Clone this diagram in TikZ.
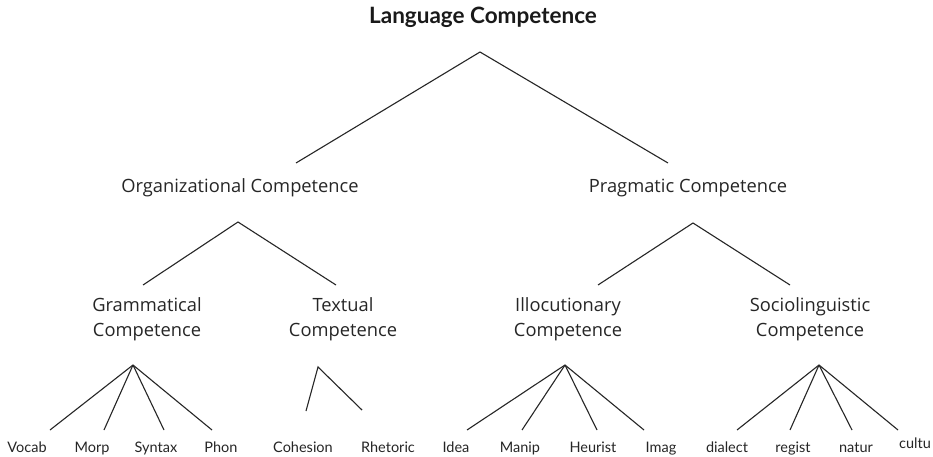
\documentclass[tikz,border=0pt]{standalone}
\usepackage{fontspec}
\setmainfont{Open Sans}
\newfontfamily\titlefont{Lato}
\newfontfamily\leaffont{Lato}
\begin{document}
\begin{tikzpicture}[x=1pt,y=-1pt,
  tline/.style={draw=black!85, line width=1.1pt},
  titlelbl/.style={font=\titlefont\fontsize{22.5}{26}\selectfont\bfseries, text=black!90, inner sep=0pt},
  midlbl/.style={font=\fontsize{18.3}{25}\selectfont, text=black!85, inner sep=0pt, align=center},
  leaflbl/.style={font=\leaffont\fontsize{14.5}{16}\selectfont, text=black!85, inner sep=0pt, anchor=base}]
\useasboundingbox[fill=white] (0,0) rectangle (933,457);
% labels
\node[titlelbl] (lang) at (483,17) {Language Competence};
\node[midlbl] (org) at (240,188) {Organizational Competence};
\node[midlbl] (prag) at (688,188) {Pragmatic Competence};
\node[midlbl] (gram) at (147,319) {Grammatical\\Competence};
\node[midlbl] (text) at (343,319) {Textual\\Competence};
\node[midlbl] (illo) at (568,319) {Illocutionary\\Competence};
\node[midlbl] (soc) at (810,319) {Sociolinguistic\\Competence};
\node[leaflbl] (vocab) at (27,452) {Vocab};
\node[leaflbl] (morp) at (92,452) {Morp};
\node[leaflbl] (syntax) at (156,452) {Syntax};
\node[leaflbl] (phon) at (221,452) {Phon};
\node[leaflbl] (coh) at (303,452) {Cohesion};
\node[leaflbl] (rhet) at (388,452) {Rhetoric};
\node[leaflbl] (idea) at (456,452) {Idea};
\node[leaflbl] (manip) at (520,452) {Manip};
\node[leaflbl] (heur) at (593,452) {Heurist};
\node[leaflbl] (imag) at (661,452) {Imag};
\node[leaflbl] (dial) at (727,452) {dialect};
\node[leaflbl] (reg) at (793,452) {regist};
\node[leaflbl] (nat) at (856,452) {natur};
\node[leaflbl] (cult) at (915,448) {cultu};
% branch points
\coordinate (aLang) at (480,52);
\coordinate (eOrg) at (296,163);
\coordinate (ePrag) at (668,163);
\coordinate (aOrg) at (238,222);
\coordinate (eGram) at (143,285);
\coordinate (eText) at (336,285);
\coordinate (aPrag) at (693,223);
\coordinate (eIllo) at (598,285);
\coordinate (eSoc) at (790,285);
\coordinate (aGram) at (133,365);
\coordinate (eVocab) at (50,430);
\coordinate (eMorp) at (104,430);
\coordinate (eSyntax) at (164,430);
\coordinate (ePhon) at (212,430);
\coordinate (aText) at (318,367);
\coordinate (eCoh) at (306,411);
\coordinate (eRhet) at (362,410);
\coordinate (aIllo) at (565,365);
\coordinate (eIdea) at (467,430);
\coordinate (eManip) at (522,430);
\coordinate (eHeur) at (597,430);
\coordinate (eImag) at (644,430);
\coordinate (aSoc) at (819,365);
\coordinate (eDial) at (737,430);
\coordinate (eReg) at (790,430);
\coordinate (eNat) at (852,430);
\coordinate (eCult) at (898,430);
% connectors
\draw[tline] (eOrg) -- (aLang) -- (ePrag);
\draw[tline] (eGram) -- (aOrg) -- (eText);
\draw[tline] (eIllo) -- (aPrag) -- (eSoc);
\foreach \e in {eVocab,eMorp,eSyntax,ePhon} \draw[tline] (aGram) -- (\e);
\draw[tline] (eCoh) -- (aText) -- (eRhet);
\foreach \e in {eIdea,eManip,eHeur,eImag} \draw[tline] (aIllo) -- (\e);
\foreach \e in {eDial,eReg,eNat,eCult} \draw[tline] (aSoc) -- (\e);
\end{tikzpicture}
\end{document}
